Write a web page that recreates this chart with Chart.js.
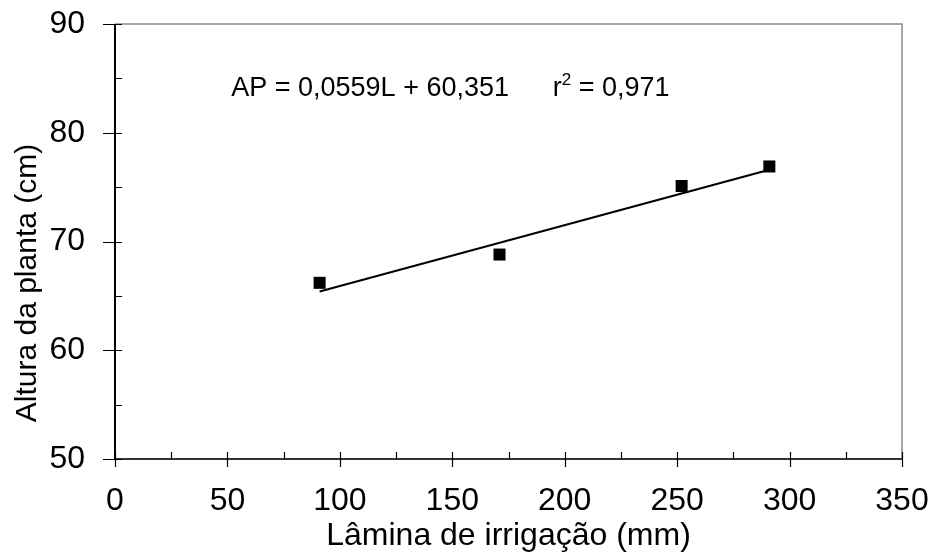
<!DOCTYPE html>
<html><head><meta charset="utf-8">
<script src="https://cdn.jsdelivr.net/npm/chart.js@4/dist/chart.umd.min.js"></script>
<style>html,body{margin:0;padding:0;background:#fff}#wrap{width:934px;height:552px;position:relative}</style>
</head><body><div id="wrap"><canvas id="c" width="934" height="552"></canvas></div>
<script>
// Data
const laminaMm = [91, 171, 252, 291];
const alturaCm = [66.2, 68.8, 75.1, 76.9];
// Trend line end points
const trendX = [91, 291];
const trendY = [65.4, 76.6];
// Ticks
const xMajorTicks = [0, 50, 100, 150, 200, 250, 300, 350];
const xMinorTicks = [25, 75, 125, 175, 225, 275, 325];
const yMajorTicks = [50, 60, 70, 80, 90];
const yMinorTicks = [55, 65, 75, 85];
// Texts
const xTitle = 'Lâmina de irrigação (mm)';
const yTitle = 'Altura da planta (cm)';
const eqText = 'AP = 0,0559L + 60,351';
const r2Base = 'r';
const r2Sup = '2';
const r2Rest = ' = 0,971';

const FONT = '"Liberation Sans", Arial, sans-serif';

function noPad(s) { s.paddingTop = 0; s.paddingBottom = 0; s.paddingLeft = 0; s.paddingRight = 0; }

const axisDecor = {
  id: 'axisDecor',
  afterDraw(chart) {
    const ctx = chart.ctx;
    const xs = chart.scales.x, ys = chart.scales.y;
    const a = chart.chartArea;
    ctx.save();
    // top and right frame (gray)
    ctx.strokeStyle = '#8a8a8a';
    ctx.lineWidth = 1.5;
    ctx.beginPath();
    ctx.moveTo(a.left, a.top); ctx.lineTo(a.right, a.top); ctx.lineTo(a.right, a.bottom);
    ctx.stroke();
    // axes
    ctx.strokeStyle = '#000';
    ctx.lineWidth = 2;
    ctx.beginPath();
    ctx.moveTo(a.left, a.top); ctx.lineTo(a.left, a.bottom);
    ctx.stroke();
    ctx.strokeStyle = '#333';
    ctx.beginPath();
    ctx.moveTo(a.left, a.bottom); ctx.lineTo(a.right, a.bottom);
    ctx.stroke();
    // ticks
    ctx.strokeStyle = '#000';
    ctx.lineWidth = 1.2;
    ctx.beginPath();
    yMajorTicks.forEach(v => { const p = Math.round(ys.getPixelForValue(v)) + 0.5; ctx.moveTo(a.left - 12, p); ctx.lineTo(a.left + 7, p); });
    yMinorTicks.forEach(v => { const p = Math.round(ys.getPixelForValue(v)) + 0.5; ctx.moveTo(a.left, p); ctx.lineTo(a.left + 7, p); });
    xMajorTicks.forEach(v => { const p = Math.round(xs.getPixelForValue(v)) + 0.5; ctx.moveTo(p, a.bottom - 7); ctx.lineTo(p, a.bottom + 8); });
    xMinorTicks.forEach(v => { const p = Math.round(xs.getPixelForValue(v)) + 0.5; ctx.moveTo(p, a.bottom - 7); ctx.lineTo(p, a.bottom); });
    ctx.stroke();
    // equation
    ctx.fillStyle = '#000';
    ctx.textBaseline = 'alphabetic';
    ctx.textAlign = 'left';
    ctx.font = '27px ' + FONT;
    const ey = ys.getPixelForValue(83.4);
    ctx.fillText(eqText, xs.getPixelForValue(51.7), ey);
    let rx = xs.getPixelForValue(194.7);
    ctx.fillText(r2Base, rx, ey);
    rx += ctx.measureText(r2Base).width;
    ctx.font = '17px ' + FONT;
    ctx.fillText(r2Sup, rx, ey - 11);
    rx += ctx.measureText(r2Sup).width;
    ctx.font = '27px ' + FONT;
    ctx.fillText(r2Rest, rx, ey);
    // y axis title (placed as in the reference, below the plot centre)
    ctx.font = '30px ' + FONT;
    ctx.textAlign = 'center';
    ctx.textBaseline = 'middle';
    ctx.translate(28, 283);
    ctx.rotate(-Math.PI / 2);
    ctx.fillText(yTitle, 0, 0);
    ctx.restore();
  }
};

new Chart(document.getElementById('c'), {
  type: 'scatter',
  data: {
    datasets: [
      {
        type: 'scatter',
        label: 'Altura',
        data: laminaMm.map((x, i) => ({ x, y: alturaCm[i] })),
        pointStyle: 'rect',
        pointRadius: 8.5,
        pointHoverRadius: 8.5,
        backgroundColor: '#000',
        borderColor: '#000',
        borderWidth: 0,
        order: 1
      },
      {
        type: 'line',
        label: 'Tendência',
        data: trendX.map((x, i) => ({ x, y: trendY[i] })),
        borderColor: '#000',
        borderWidth: 2,
        pointRadius: 0,
        fill: false,
        order: 2
      }
    ]
  },
  options: {
    responsive: false,
    animation: false,
    devicePixelRatio: 1,
    layout: { padding: { top: 24, right: 32, left: 0, bottom: 0 } },
    plugins: { legend: { display: false }, tooltip: { enabled: false } },
    scales: {
      x: {
        type: 'linear', position: 'bottom', min: 0, max: 350,
        afterBuildTicks: s => { s.ticks = xMajorTicks.map(v => ({ value: v })); },
        grid: { display: false, drawTicks: false },
        border: { display: false },
        ticks: { font: { family: FONT, size: 32 }, color: '#000', padding: 23, maxRotation: 0, autoSkip: false },
        title: { display: true, text: xTitle, font: { family: FONT, size: 32, lineHeight: 1 }, color: '#000', padding: { top: 0, bottom: 0 } },
        afterFit: s => { s.height = 93; noPad(s); }
      },
      y: {
        type: 'linear', position: 'left', min: 50, max: 90,
        afterBuildTicks: s => { s.ticks = yMajorTicks.map(v => ({ value: v })); },
        grid: { display: false, drawTicks: false },
        border: { display: false },
        ticks: { font: { family: FONT, size: 32 }, color: '#000', padding: 30, autoSkip: false },
        title: { display: false, text: yTitle },
        afterFit: s => { s.width = 115; noPad(s); }
      }
    }
  },
  plugins: [axisDecor]
});
</script>
</body></html>
